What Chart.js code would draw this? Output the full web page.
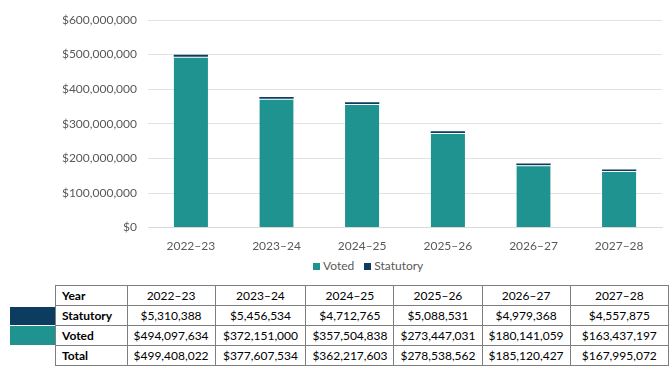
<!DOCTYPE html>
<html>
<head>
<meta charset="utf-8">
<script src="https://cdn.jsdelivr.net/npm/chart.js@4"></script>
<style>
  body { margin: 0; background: #fff; font-family: Lato, sans-serif; }
  #wrap { position: absolute; left: 0; top: 0; width: 669px; height: 256px; }
  .sw { position: absolute; left: 10px; width: 45px; }
  table { position: absolute; left: 55px; top: 285px; border-collapse: collapse; font-size: 12px; color: #000; }
  td { border: 1px solid #7f7f7f; height: 19px; padding: 0 6px; text-align: center; }
  td.h { text-align: left; font-weight: bold; }
  #legend { position: absolute; top: 258px; left: 313px; font-size: 12px; color: #595959; white-space: nowrap; }
  #legend span.b { display: inline-block; width: 7px; height: 7px; margin-right: 3px; }
  #legend span.item { margin-right: 10px; }
</style>
</head>
<body>
<div id="wrap"><canvas id="chart"></canvas></div>
<div id="legend"></div>
<div class="sw" style="top:307px;height:18px;background:rgb(12,60,95)"></div>
<div class="sw" style="top:326px;height:19px;background:rgb(31,147,143)"></div>
<table id="tbl"></table>
<script>
var years = ['2022\u201323', '2023\u201324', '2024\u201325', '2025\u201326', '2026\u201327', '2027\u201328'];
var voted = [494097634, 372151000, 357504838, 273447031, 180141059, 163437197];
var statutory = [5310388, 5456534, 4712765, 5088531, 4979368, 4557875];
var totals = [499408022, 377607534, 362217603, 278538562, 185120427, 167995072];
var colWidths = [72, 84, 91, 88, 87, 87, 99];
var seriesNames = ['Voted', 'Statutory'];
var seriesColors = ['rgb(31,147,143)', 'rgb(12,60,95)'];

function money(v) { return '$' + v.toLocaleString('en-US'); }

// table under the chart
var tbl = document.getElementById('tbl');
var rows = [['Year'].concat(years),
  ['Statutory'].concat(statutory.map(money)),
  ['Voted'].concat(voted.map(money)),
  ['Total'].concat(totals.map(money))];
rows.forEach(function(r) {
  var tr = document.createElement('tr');
  r.forEach(function(c, i) {
    var td = document.createElement('td');
    td.textContent = c;
    td.style.width = (colWidths[i] - 13) + 'px';
    if (i == 0) td.className = 'h';
    tr.appendChild(td);
  });
  tbl.appendChild(tr);
});

// legend (html so it can sit where the original one is)
var leg = document.getElementById('legend');
seriesNames.forEach(function(n, i) {
  var s = document.createElement('span');
  s.className = 'item';
  s.innerHTML = '<span class="b" style="background:' + seriesColors[i] + '"></span>' + n;
  leg.appendChild(s);
});

var ctx = document.getElementById('chart').getContext('2d');
var myChart = new Chart(ctx, {
  type: 'bar',
  data: {
    labels: years,
    datasets: [
      {
        label: seriesNames[0],
        data: voted,
        backgroundColor: seriesColors[0],
        borderColor: 'rgba(255,255,255,0.6)',
        borderWidth: {top: 1, left: 0, right: 0, bottom: 0},
        borderSkipped: false,
        barPercentage: 0.4,
        categoryPercentage: 1
      },
      {
        label: seriesNames[1],
        data: statutory,
        backgroundColor: seriesColors[1],
        barPercentage: 0.4,
        categoryPercentage: 1
      }
    ]
  },
  options: {
    responsive: true,
    maintainAspectRatio: false,
    animation: false,
    layout: { padding: { left: 0, right: 7, top: 20, bottom: 0 } },
    plugins: {
      legend: { display: false },
      tooltip: { enabled: false }
    },
    scales: {
      x: {
        stacked: true,
        grid: { display: false },
        border: { color: '#d9d9d9' },
        ticks: { color: '#595959', font: { family: 'Lato', size: 12 }, padding: 3 }
      },
      y: {
        stacked: true,
        min: 0,
        max: 600000000,
        afterFit: function(axis) { axis.width = 148; },
        grid: { color: '#e3e3e3', drawTicks: false },
        border: { display: false },
        ticks: {
          stepSize: 100000000,
          padding: 11,
          color: '#595959',
          font: { family: 'Lato', size: 12 },
          callback: function(v) { return money(v); }
        }
      }
    }
  }
});
</script>
</body>
</html>
